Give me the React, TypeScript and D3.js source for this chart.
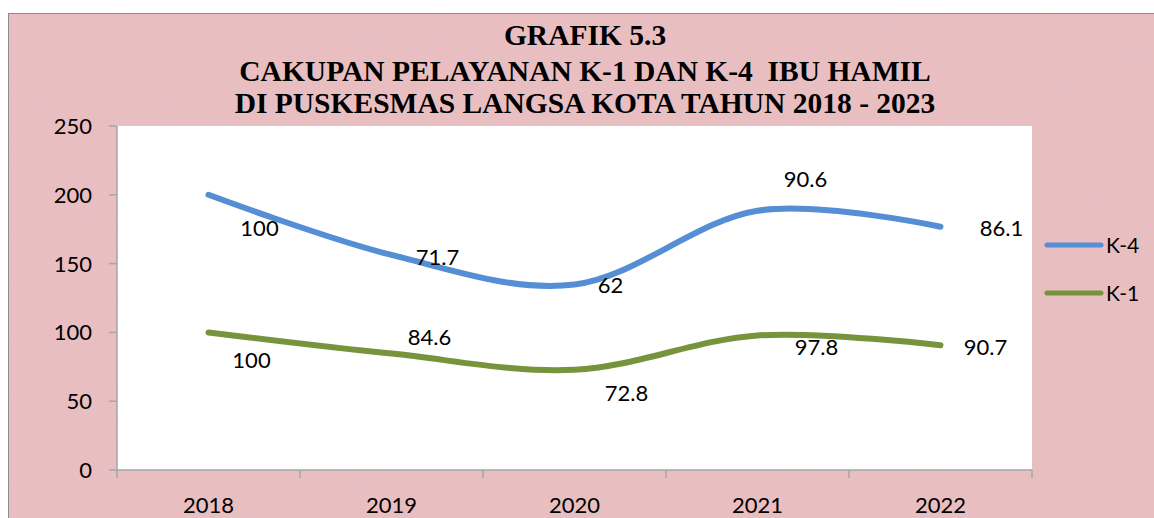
import React from "react";
import * as d3 from "d3";

const categories = ["2018", "2019", "2020", "2021", "2022"];
const k1Values = [100, 84.6, 72.8, 97.8, 90.7];
const k4Values = [100, 71.7, 62, 90.6, 86.1];
const yTicks = [0, 50, 100, 150, 200, 250];
const titleLines = [
  "GRAFIK 5.3",
  "CAKUPAN PELAYANAN K-1 DAN K-4  IBU HAMIL",
  "DI PUSKESMAS LANGSA KOTA TAHUN 2018 - 2023",
];

// label offsets (layout, not data)
const k4LabelOffsets = [
  [51, 33], [46, 2], [36, 1], [48, -32], [61, 1],
];
const k1LabelOffsets = [
  [43, 28], [38, -17], [52, 23], [59, 12], [45, 2],
];

const W = 1154;
const H = 518;
const plot = { left: 117, top: 126, right: 1032, bottom: 470 };
const BLUE = "#558ed5";
const GREEN = "#77933c";
const AXIS = "#a6a6a6";
const FONT = "Lato, 'Open Sans', sans-serif";

export default function App() {
  const x = d3
    .scaleBand<string>()
    .domain(categories)
    .range([plot.left, plot.right]);
  const y = d3.scaleLinear().domain([0, 250]).range([plot.bottom, plot.top]);
  const cx = (c: string) => (x(c) as number) + x.bandwidth() / 2;

  const k1Stack = k1Values;
  const k4Stack = k4Values.map((v, i) => v + k1Values[i]);

  const line = d3
    .line<number>()
    .x((_, i) => cx(categories[i]))
    .y((d) => y(d))
    .curve(d3.curveCardinal.tension(0));

  const series = [
    { name: "K-4", stack: k4Stack, raw: k4Values, color: BLUE, offs: k4LabelOffsets },
    { name: "K-1", stack: k1Stack, raw: k1Values, color: GREEN, offs: k1LabelOffsets },
  ];

  const titleY = [45, 81, 113];

  return (
    <svg
      width={W}
      height={H}
      style={{ position: "absolute", left: 0, top: 0 }}
      xmlns="http://www.w3.org/2000/svg"
    >
      <defs>
        <filter id="marble" x="0" y="0" width="100%" height="100%">
          <feTurbulence type="fractalNoise" baseFrequency="0.015 0.03" numOctaves="4" seed="7" result="n" />
          <feColorMatrix
            in="n"
            type="matrix"
            values="0 0 0 0 0.78  0 0 0 0 0.55  0 0 0 0 0.58  0 0 0 1.1 -0.45"
          />
        </filter>
      </defs>
      <rect x={0} y={0} width={W} height={H} fill="#ffffff" />
      <rect x={8.5} y={13.5} width={W} height={H} fill="#e9bec0" stroke="#8c8c8c" strokeWidth={1} />
      <rect x={9} y={14} width={W} height={H} filter="url(#marble)" opacity={0.55} />
      <rect
        x={plot.left}
        y={plot.top}
        width={plot.right - plot.left}
        height={plot.bottom - plot.top}
        fill="#ffffff"
      />

      {titleLines.map((t, i) => (
        <text
          key={i}
          x={585}
          y={titleY[i]}
          textAnchor="middle"
          fontFamily="'Liberation Serif', 'Times New Roman', serif"
          fontWeight="bold"
          fontSize={29.5}
          fill="#000"
          style={{ whiteSpace: "pre" }}
        >
          {t}
        </text>
      ))}

      {/* Y axis */}
      <line x1={plot.left} x2={plot.left} y1={plot.top} y2={plot.bottom} stroke={AXIS} strokeWidth={1.5} />
      {yTicks.map((t) => (
        <g key={t}>
          <line x1={plot.left - 8} x2={plot.left} y1={y(t)} y2={y(t)} stroke={AXIS} strokeWidth={1.5} />
          <text
            x={plot.left - 25}
            y={y(t)}
            dy="0.36em"
            textAnchor="end"
            fontFamily={FONT}
            fontSize={22}
            fill="#000"
          >
            {t}
          </text>
        </g>
      ))}

      {/* X axis */}
      <line x1={plot.left} x2={plot.right} y1={plot.bottom} y2={plot.bottom} stroke={AXIS} strokeWidth={1.5} />
      {categories.map((c) => (
        <line
          key={"t" + c}
          x1={x(c) as number}
          x2={x(c) as number}
          y1={plot.bottom}
          y2={plot.bottom + 8}
          stroke={AXIS}
          strokeWidth={1.5}
        />
      ))}
      <line x1={plot.right} x2={plot.right} y1={plot.bottom} y2={plot.bottom + 8} stroke={AXIS} strokeWidth={1.5} />
      {categories.map((c) => (
        <text
          key={"l" + c}
          x={cx(c)}
          y={513}
          textAnchor="middle"
          fontFamily={FONT}
          fontSize={22}
          fill="#000"
        >
          {c}
        </text>
      ))}

      {/* Lines */}
      {series.map((s) => (
        <path
          key={s.name}
          d={line(s.stack) || ""}
          fill="none"
          stroke={s.color}
          strokeWidth={6}
          strokeLinecap="round"
          strokeLinejoin="round"
        />
      ))}

      {/* Data labels */}
      {series.map((s) =>
        s.raw.map((v, i) => (
          <text
            key={s.name + i}
            x={cx(categories[i]) + s.offs[i][0]}
            y={y(s.stack[i]) + s.offs[i][1]}
            dy="0.36em"
            textAnchor="middle"
            fontFamily={FONT}
            fontSize={22}
            fill="#000"
          >
            {String(v)}
          </text>
        ))
      )}

      {/* Legend */}
      {series.map((s, i) => {
        const ly = 245 + i * 48;
        return (
          <g key={"lg" + s.name}>
            <line x1={1047} x2={1101} y1={ly} y2={ly} stroke={s.color} strokeWidth={5} strokeLinecap="round" />
            <text x={1106} y={ly} dy="0.36em" fontFamily={FONT} fontSize={21} fill="#000">
              {s.name}
            </text>
          </g>
        );
      })}
    </svg>
  );
}
